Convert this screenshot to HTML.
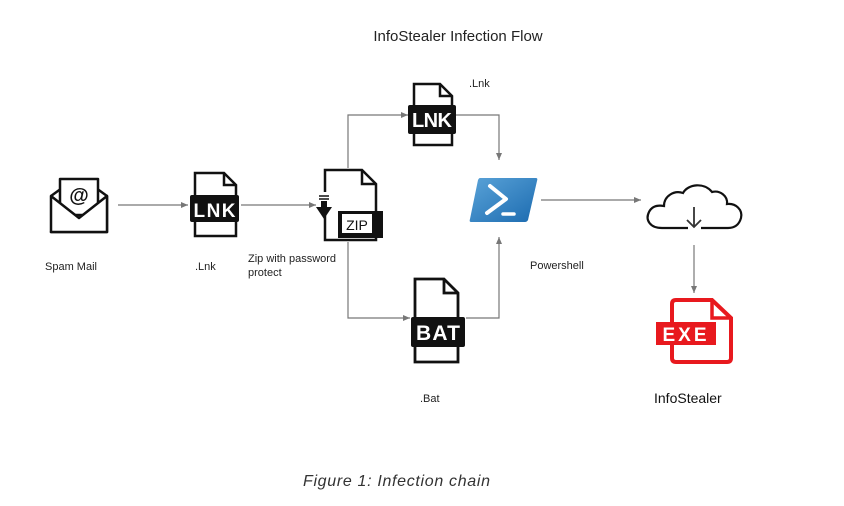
<!DOCTYPE html>
<html><head><meta charset="utf-8"><style>
html,body{margin:0;padding:0;background:#fff;width:844px;height:506px;overflow:hidden}
svg{display:block;font-family:"Liberation Sans",sans-serif}
</style></head><body>
<svg width="844" height="506" viewBox="0 0 844 506" xmlns="http://www.w3.org/2000/svg">
<defs>
<marker id="a" markerWidth="8" markerHeight="8" refX="7" refY="4" orient="auto" markerUnits="userSpaceOnUse">
<path d="M0,1 L7,4 L0,7 z" fill="#777"/></marker>
</defs>
<text x="458" y="41" font-size="15" text-anchor="middle" fill="#222">InfoStealer Infection Flow</text>

<!-- mail -->
<g fill="none" stroke="#111" stroke-width="2.5" stroke-linejoin="round">
<path d="M51,196 L62,188 M96,188 L107,196 L107,232 L51,232 Z"/>
<rect x="60" y="179" width="38" height="36" fill="#fff"/>
<path d="M51,196 L79,218 L107,196 L107,232 L51,232 Z" fill="#fff"/>
</g>
<text x="79" y="202" font-size="20" text-anchor="middle" font-weight="bold" fill="#111">@</text>

<!-- connectors -->
<g stroke="#777" stroke-width="1.2" fill="none">
<line x1="118" y1="205" x2="188" y2="205" marker-end="url(#a)"/>
<line x1="241" y1="205" x2="316" y2="205" marker-end="url(#a)"/>
<polyline points="348,168 348,115 408,115" marker-end="url(#a)"/>
<polyline points="348,242 348,318 410,318" marker-end="url(#a)"/>
<polyline points="456,115 499,115 499,160" marker-end="url(#a)"/>
<polyline points="466,318 499,318 499,237" marker-end="url(#a)"/>
<line x1="541" y1="200" x2="641" y2="200" marker-end="url(#a)"/>
<line x1="694" y1="245" x2="694" y2="293" marker-end="url(#a)"/>
</g>

<!-- LNK 1 -->
<g>
<path d="M195,173 L224,173 L236,185 L236,236 L195,236 Z" fill="#fff" stroke="#111" stroke-width="2.5"/>
<path d="M224,173 L224,185 L236,185" fill="none" stroke="#111" stroke-width="2.5"/>
<rect x="190" y="195" width="49" height="27" rx="2" fill="#111"/>
<text x="214.5" y="217" font-size="19" font-weight="bold" fill="#fff" text-anchor="middle" textLength="42">LNK</text>
</g>

<!-- ZIP -->
<g>
<path d="M325,170 L362,170 L376,184 L376,240 L325,240 Z" fill="#fff" stroke="#111" stroke-width="2.5"/>
<path d="M362,170 L362,184 L376,184" fill="none" stroke="#111" stroke-width="2.5"/>
<rect x="318" y="192" width="14" height="12" fill="#fff"/>
<line x1="319" y1="196" x2="329" y2="196" stroke="#111" stroke-width="1.5"/>
<line x1="319" y1="199" x2="329" y2="199" stroke="#111" stroke-width="1.5"/>
<rect x="321" y="201" width="6" height="7" fill="#111"/>
<path d="M316,207 L332,207 L324,219 Z" fill="#111"/>
<rect x="338" y="211" width="45" height="27" fill="#111"/>
<rect x="342" y="214" width="30" height="19" fill="#fff"/>
<text x="357" y="230" font-size="14" fill="#111" text-anchor="middle">ZIP</text>
</g>

<!-- LNK top -->
<g>
<path d="M414,84 L440,84 L452,96 L452,145 L414,145 Z" fill="#fff" stroke="#111" stroke-width="2.5"/>
<path d="M440,84 L440,96 L452,96" fill="none" stroke="#111" stroke-width="2.5"/>
<rect x="408" y="105" width="48" height="29" rx="2" fill="#111"/>
<text x="432" y="127" font-size="20" font-weight="bold" fill="#fff" text-anchor="middle" textLength="40">LNK</text>
</g>

<!-- BAT -->
<g>
<path d="M415,279 L444,279 L458,293 L458,362 L415,362 Z" fill="#fff" stroke="#111" stroke-width="2.8"/>
<path d="M444,279 L444,293 L458,293" fill="none" stroke="#111" stroke-width="2.8"/>
<rect x="411" y="317" width="54" height="30" rx="2" fill="#111"/>
<text x="438" y="340" font-size="21" font-weight="bold" fill="#fff" text-anchor="middle" textLength="44">BAT</text>
</g>

<!-- Powershell -->
<defs><linearGradient id="ps" x1="0" y1="0" x2="1" y2="1">
<stop offset="0" stop-color="#5aa3d8"/><stop offset="1" stop-color="#1c6bb0"/></linearGradient></defs>
<path d="M480,178 L536,178 Q538,178 537,181 L528,220 Q527,222 525,222 L471,222 Q469,222 470,219 L478,180 Q479,178 480,178 Z" fill="url(#ps)"/>
<path d="M490,186 L506,199 L487,213" fill="none" stroke="#fff" stroke-width="4" stroke-linecap="round" stroke-linejoin="round"/>
<line x1="503" y1="214" x2="514" y2="214" stroke="#fff" stroke-width="3.5" stroke-linecap="round"/>

<!-- cloud -->
<path d="M688,228 L662,228 C650,228 645,220 649,212 C652,206 658,205 664,206 C664,196 674,190 683,193 C688,184 704,182 712,192 C720,190 728,196 727,204 C736,203 743,210 741,218 C739,225 734,228 728,228 L701,228" fill="none" stroke="#111" stroke-width="2.2"/>
<line x1="694" y1="207" x2="694" y2="227" stroke="#333" stroke-width="1.8"/>
<path d="M687,220 L694,227 L701,220" fill="none" stroke="#333" stroke-width="1.8"/>

<!-- EXE -->
<g>
<path d="M676,300 L712,300 L731,318 L731,358 Q731,362 727,362 L676,362 Q672,362 672,358 L672,304 Q672,300 676,300 Z" fill="#fff" stroke="#e8191e" stroke-width="4"/>
<path d="M712,300 L712,318 L731,318" fill="none" stroke="#e8191e" stroke-width="3.5"/>
<rect x="656" y="322" width="60" height="23" fill="#e8191e"/>
<text x="686" y="341" font-size="19" font-weight="bold" fill="#fff" text-anchor="middle" letter-spacing="3">EXE</text>
</g>

<!-- labels -->
<g font-size="11" fill="#222">
<text x="45" y="270">Spam Mail</text>
<text x="195" y="270">.Lnk</text>
<text x="248" y="262">Zip with password</text>
<text x="248" y="276">protect</text>
<text x="469" y="87">.Lnk</text>
<text x="530" y="269">Powershell</text>
<text x="420" y="402">.Bat</text>
</g>
<text x="654" y="403" font-size="14" fill="#111">InfoStealer</text>
<text x="303" y="486" font-size="16" font-style="italic" fill="#333" textLength="187" lengthAdjust="spacing">Figure 1: Infection chain</text>
</svg>
</body></html>
